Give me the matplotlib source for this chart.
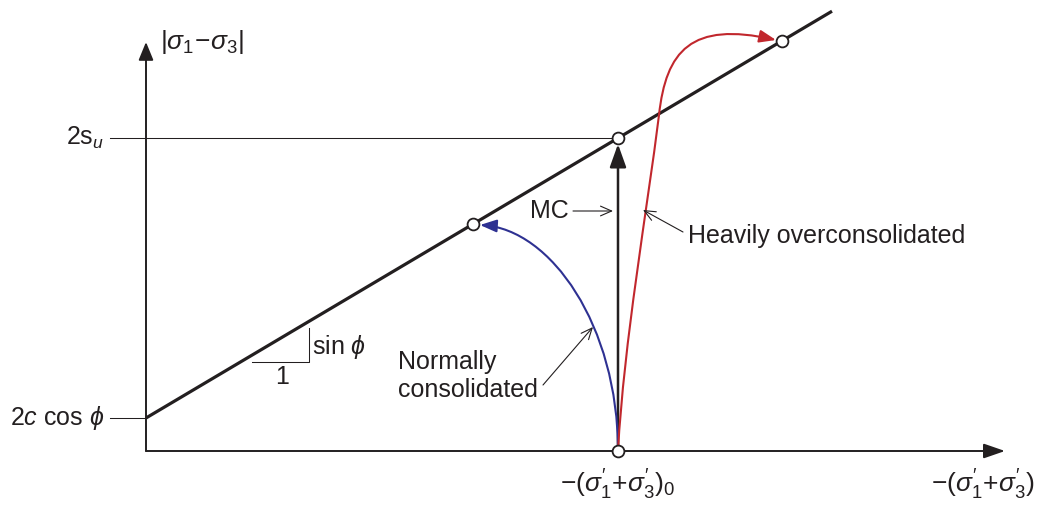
import numpy as np
import matplotlib.pyplot as plt
from matplotlib.patches import FancyArrowPatch, ArrowStyle
from matplotlib.path import Path

plt.rcParams['font.family'] = ['Liberation Sans', 'DejaVu Sans']
plt.rcParams['mathtext.fontset'] = 'custom'
plt.rcParams['mathtext.rm'] = 'Liberation Sans'
plt.rcParams['mathtext.it'] = 'Liberation Sans:italic'
plt.rcParams['mathtext.bf'] = 'Liberation Sans:bold'

INK = '#231f20'
BLUE = '#2e3192'
RED = '#c1272d'
FS = 18

# failure envelope: |s1 - s3| = 2c cos(phi) + sin(phi) * -(s1' + s3')
intercept = 33.0
slope = 0.593
x_end = 686.0

# -(s1'+s3') where each path ends on the envelope
p0 = 472.0      # initial state, also the undrained (MC) path
p_nc = 327.0    # normally consolidated end point
p_oc = 636.0    # heavily overconsolidated end point

# stress paths as cubic Bezier vertices
nc_x = [472, 472, 405, 334]
nc_y = [0, 125, 222, 226]
oc_x = [472, 478, 501, 513, 520, 545, 630]
oc_y = [0, 110, 240, 336, 400, 430, 411]


def env(x):
    return intercept + slope * np.asarray(x)


def arrow(ax, a, b, lw, hl, hw, style='-|>', color=INK, z=3):
    ar = FancyArrowPatch(a, b, arrowstyle=ArrowStyle(style, head_length=hl, head_width=hw),
                         mutation_scale=1, lw=lw, color=color, shrinkA=0, shrinkB=0, zorder=z)
    ax.add_patch(ar)


def curve(ax, xs, ys, color, lw=1.5):
    verts = list(zip(xs, ys))
    codes = [Path.MOVETO] + [Path.CURVE4] * (len(verts) - 1)
    ar = FancyArrowPatch(path=Path(verts, codes),
                         arrowstyle=ArrowStyle('-|>', head_length=10, head_width=3.8),
                         mutation_scale=1, lw=lw, color=color, zorder=3)
    ax.add_patch(ar)


fig = plt.figure(figsize=(10.37, 5.05), dpi=100)
ax = fig.add_axes([0, 0, 1, 1])
ax.set_xlim(-146, 891)
ax.set_ylim(-54, 451)
ax.axis('off')

# axes
arrow(ax, (0, 0), (859, 0), 1.4, 13, 4.5)
arrow(ax, (0, 0), (0, 409), 1.4, 11, 4.5)

# envelope
xs = np.array([0, x_end])
ax.plot(xs, env(xs), color=INK, lw=2.3, solid_capstyle='butt', zorder=2)

# reference lines for intercept and 2su
y_mc = env(p0)
ax.plot([-36, p0], [y_mc, y_mc], color=INK, lw=0.75, zorder=1)
ax.plot([-36, 0], [intercept, intercept], color=INK, lw=0.75, zorder=1)
ax.text(-42, y_mc, r'$\mathrm{2s}_{u}$', fontsize=FS, ha='right', va='center', color=INK)
ax.text(-42, intercept, r'$\mathrm{2}c\ \mathrm{cos}\ \phi$', fontsize=FS,
        ha='right', va='center', color=INK)

# slope triangle
ax.plot([106, 163, 163], [89, 89, 123], color=INK, lw=0.75)
ax.text(136, 74, '1', fontsize=FS, ha='center', va='center', color=INK)
ax.text(166, 104, r'$\mathrm{sin}\ \phi$', fontsize=FS, ha='left', va='center', color=INK)

# stress paths
arrow(ax, (p0, 0), (p0, y_mc - 6), 1.8, 14, 5)
curve(ax, nc_x, nc_y, BLUE)
curve(ax, oc_x, oc_y, RED)

ax.plot([p_nc, p0, p_oc, p0], [env(p_nc), y_mc, env(p_oc), 0], 'o', ms=8.5,
        mfc='white', mec=INK, mew=1.3, zorder=6, clip_on=False)

# callouts
ax.text(423, 240, 'MC', fontsize=FS, ha='right', va='center', color=INK)
arrow(ax, (427, 240), (467, 240), 0.8, 8, 3.5, style='->')
ax.text(542, 215, 'Heavily overconsolidated', fontsize=FS, ha='left', va='center', color=INK)
arrow(ax, (537, 219), (497, 241), 0.8, 8, 3.5, style='->')
ax.text(252, 75, 'Normally\nconsolidated', fontsize=FS, ha='left', va='center',
        linespacing=1.25, color=INK)
arrow(ax, (397, 66), (447, 124), 0.8, 8, 3.5, style='->')

# axis labels
ax.text(14, 409, r'$|\sigma_1\!-\!\sigma_3|$', fontsize=FS + 1, ha='left', va='center', color=INK)
ax.text(p0, -34, r"$-(\sigma^{\prime}_1\!+\!\sigma^{\prime}_3)_0$", fontsize=FS + 1,
        ha='center', va='center', color=INK)
ax.text(889, -34, r"$-(\sigma^{\prime}_1\!+\!\sigma^{\prime}_3)$", fontsize=FS + 1,
        ha='right', va='center', color=INK)

fig.savefig('out.png', dpi=100)
